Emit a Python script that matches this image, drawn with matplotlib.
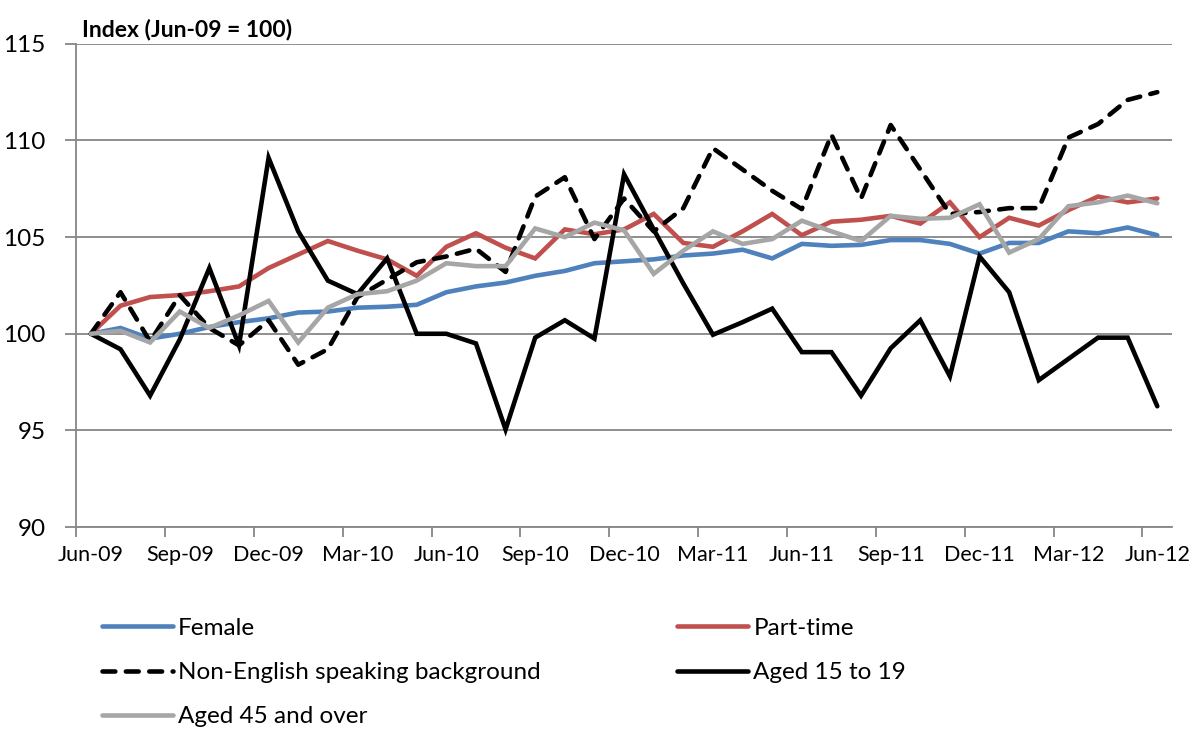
import numpy as np
import matplotlib.pyplot as plt

plt.rcParams['font.family'] = ['Lato', 'DejaVu Sans']

# Monthly index, Jun-09 to Jun-12 (Jun-09 = 100)
months = ['Jun-09', 'Jul-09', 'Aug-09', 'Sep-09', 'Oct-09', 'Nov-09', 'Dec-09',
          'Jan-10', 'Feb-10', 'Mar-10', 'Apr-10', 'May-10', 'Jun-10',
          'Jul-10', 'Aug-10', 'Sep-10', 'Oct-10', 'Nov-10', 'Dec-10',
          'Jan-11', 'Feb-11', 'Mar-11', 'Apr-11', 'May-11', 'Jun-11',
          'Jul-11', 'Aug-11', 'Sep-11', 'Oct-11', 'Nov-11', 'Dec-11',
          'Jan-12', 'Feb-12', 'Mar-12', 'Apr-12', 'May-12', 'Jun-12']

female = [100.0, 100.3, 99.75, 100.0, 100.35, 100.6, 100.8, 101.1, 101.15, 101.35, 101.4,
          101.5, 102.15, 102.45, 102.65, 103.0, 103.25, 103.65, 103.75, 103.85,
          104.05, 104.15, 104.35, 103.9, 104.65, 104.55, 104.6, 104.85, 104.85,
          104.65, 104.15, 104.7, 104.7, 105.3, 105.2, 105.5, 105.1]

part_time = [100.0, 101.45, 101.9, 102.0, 102.2, 102.45, 103.4, 104.1, 104.8, 104.3, 103.85,
             103.0, 104.5, 105.2, 104.45, 103.9, 105.4, 105.15, 105.4, 106.2,
             104.7, 104.5, 105.3, 106.2, 105.1, 105.8, 105.9, 106.1, 105.7,
             106.8, 105.0, 106.0, 105.6, 106.4, 107.1, 106.8, 107.0]

non_english = [100.0, 102.15, 99.6, 102.0, 100.3, 99.4, 100.7, 98.4, 99.2, 101.9, 102.8,
               103.7, 104.0, 104.4, 103.2, 107.1, 108.1, 104.9, 107.0, 105.3,
               106.5, 109.6, 108.5, 107.4, 106.45, 110.3, 107.0, 110.8, 108.5,
               106.2, 106.3, 106.5, 106.5, 110.15, 110.85, 112.1, 112.5]

aged_15_19 = [100.0, 99.2, 96.8, 99.7, 103.4, 99.4, 109.1, 105.3, 102.75, 102.05, 103.9,
              100.0, 100.0, 99.5, 95.05, 99.8, 100.7, 99.75, 108.25, 105.4,
              102.6, 99.95, 100.6, 101.3, 99.05, 99.05, 96.8, 99.25, 100.7,
              97.8, 104.0, 102.15, 97.6, 98.7, 99.8, 99.8, 96.25]

aged_45 = [100.0, 100.15, 99.55, 101.15, 100.3, 100.95, 101.7, 99.55, 101.35, 102.05, 102.2,
           102.75, 103.65, 103.5, 103.5, 105.45, 105.0, 105.75, 105.35, 103.1,
           104.3, 105.3, 104.65, 104.9, 105.85, 105.3, 104.8, 106.1, 105.95,
           106.0, 106.7, 104.2, 104.9, 106.6, 106.8, 107.15, 106.75]

x = np.arange(len(months))

fig = plt.figure(figsize=(11.92, 7.31), dpi=100)
ax = fig.add_axes([0.0638, 0.279, 0.9195, 0.661])

lw = 3.3
style = dict(lw=lw, solid_capstyle='round', dash_capstyle='round', solid_joinstyle='miter')
h_fem, = ax.plot(x, female, color='#4F81BD', label='Female', **style)
h_pt, = ax.plot(x, part_time, color='#C0504D', label='Part-time', **style)
h_ne, = ax.plot(x, non_english, color='black', dashes=(2.8, 2.3),
                label='Non-English speaking background', **style)
h_15, = ax.plot(x, aged_15_19, color='black', label='Aged 15 to 19', **style)
h_45, = ax.plot(x, aged_45, color='#A6A6A6', label='Aged 45 and over', **style)

# axes styling
ax.set_xlim(-0.5, len(months) - 0.5)
ax.set_ylim(90, 115)
ax.set_yticks(np.arange(90, 116, 5))
ax.grid(axis='y', color='#868686', lw=1.3)
ax.set_axisbelow(True)
for s in ['top', 'right']:
    ax.spines[s].set_visible(False)
for s in ['left', 'bottom']:
    ax.spines[s].set_color('#868686')
    ax.spines[s].set_linewidth(1.3)

# tick marks between categories, labels on every third month
ax.set_xticks(np.arange(-0.5, len(months), 3))
ax.set_xticklabels([])
ax.set_xticks(x[::3], minor=True)
ax.set_xticklabels(months[::3], minor=True)
ax.tick_params(axis='x', which='major', length=7, color='#868686', width=1.3)
ax.tick_params(axis='x', which='minor', length=0, pad=13, labelsize=15.5)
ax.tick_params(axis='y', length=8, color='#868686', width=1.3, labelsize=17.5, pad=14)

ax.text(0.005, 1.008, 'Index (Jun-09 = 100)', transform=ax.transAxes,
        fontsize=16.5, fontweight='bold', va='bottom', ha='left')

fig.legend(handles=[h_fem, h_ne, h_45, h_pt, h_15], ncol=2, loc='upper left',
           bbox_to_anchor=(0.0855, 0.1546), frameon=False, fontsize=17.5,
           handlelength=2.92, handletextpad=0.22, columnspacing=5.6, labelspacing=0.95,
           borderaxespad=0, borderpad=0)

fig.savefig('out.png', dpi=100)
